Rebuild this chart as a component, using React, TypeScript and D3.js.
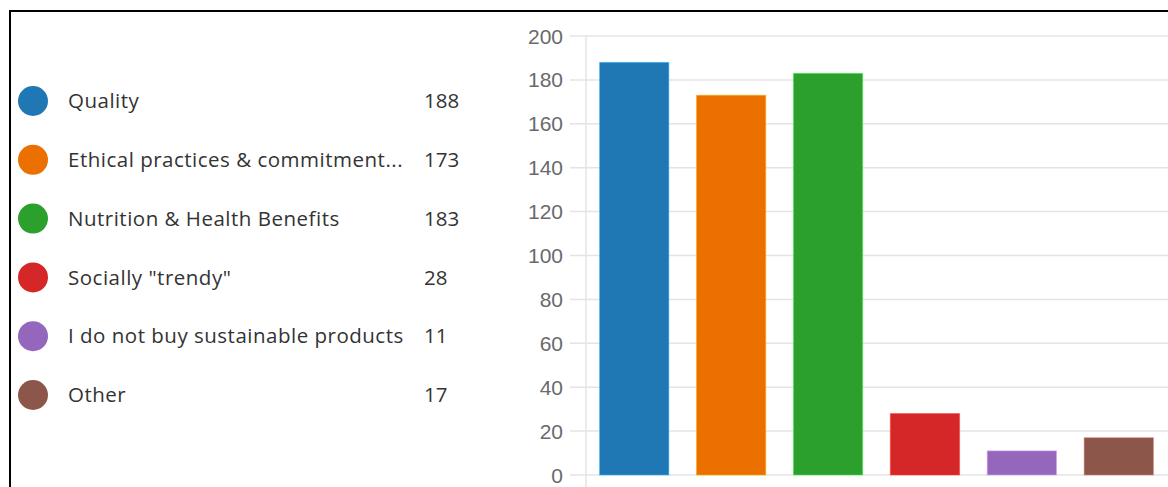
import React from "react";
import * as d3 from "d3";

const categories = [
  "Quality",
  "Ethical practices & commitment...",
  "Nutrition & Health Benefits",
  'Socially "trendy"',
  "I do not buy sustainable products",
  "Other",
];
const values = [188, 173, 183, 28, 11, 17];
const colors = ["#1f77b4", "#ec7000", "#2ca02c", "#d62728", "#9467bd", "#8c564b"];
const yTicks = [0, 20, 40, 60, 80, 100, 120, 140, 160, 180, 200];

const W = 1168;
const H = 487;

export default function App() {
  const x = d3.scaleBand<string>().domain(categories).range([586, 1167]).paddingInner(0.285).paddingOuter(0.14);
  const y = d3.scaleLinear().domain([0, 200]).range([475, 36]);
  const legendY = d3.scalePoint<string>().domain(categories).range([101, 395]);

  return (
    <svg
      width={W}
      height={H}
      style={{ position: "absolute", left: 0, top: 0, background: "#fff" }}
      fontFamily="'Open Sans', sans-serif"
    >
      <rect x={0} y={0} width={W} height={H} fill="#fff" />
      <rect x={10} y={11} width={1300} height={700} fill="none" stroke="#000" strokeWidth={2} />
      {/* gridlines */}
      {yTicks.map((t) => (
        <g key={t}>
          <line x1={570} x2={W} y1={y(t)} y2={y(t)} stroke="#e4e4e4" strokeWidth={1.5} />
          <text
            x={563}
            y={y(t)}
            dy="0.36em"
            textAnchor="end"
            fontFamily="'Liberation Sans', Arial, sans-serif"
            fontSize={21}
            fill="#6a6a6a"
          >
            {t}
          </text>
        </g>
      ))}
      <line x1={586} x2={586} y1={36} y2={H} stroke="#e4e4e4" strokeWidth={1.5} />
      {/* bars */}
      {categories.map((c, i) => (
        <rect
          key={c}
          x={x(c)}
          y={y(values[i])}
          width={x.bandwidth()}
          height={y(0) - y(values[i])}
          fill={colors[i]}
          stroke={d3.color(colors[i])!.brighter(1.2).formatHex()}
          strokeOpacity={0.5}
          strokeWidth={1}
        />
      ))}
      {/* legend */}
      {categories.map((c, i) => (
        <g key={c} transform={`translate(0,${legendY(c)})`}>
          <circle cx={33} cy={0} r={15} fill={colors[i]} />
          <text x={68} y={0} dy="0.35em" fontSize={20.5} letterSpacing={0.5} fill="#333">
            {c}
          </text>
          <text x={424} y={0} dy="0.35em" fontSize={20.5} fill="#333">
            {values[i]}
          </text>
        </g>
      ))}
    </svg>
  );
}
